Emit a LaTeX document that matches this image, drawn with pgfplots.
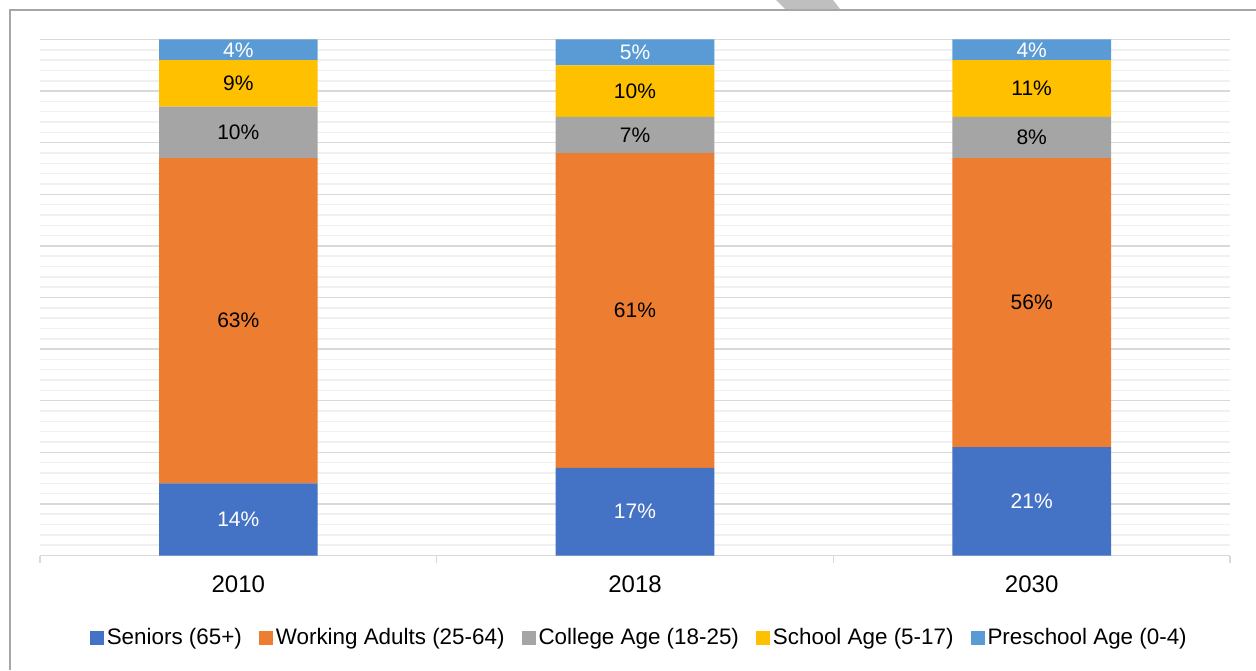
\documentclass[border=0pt]{standalone}
\usepackage{pgfplots}
\pgfplotsset{compat=1.18}
\usepackage{fontspec}
\setmainfont{Liberation Sans}
\definecolor{cSen}{HTML}{4472C4}
\definecolor{cWork}{HTML}{ED7D31}
\definecolor{cCol}{HTML}{A5A5A5}
\definecolor{cSch}{HTML}{FFC000}
\definecolor{cPre}{HTML}{5B9BD5}
\definecolor{gridmaj}{HTML}{D9D9D9}
\definecolor{gridmin}{HTML}{F0F0F0}
\definecolor{axisc}{HTML}{D9D9D9}
\definecolor{framec}{HTML}{A6A6A6}
\definecolor{chev}{HTML}{BFBFBF}
\begin{document}
\begin{tikzpicture}
\path[use as bounding box] (0,0) rectangle (628pt,335pt);
\fill[chev] (388pt,335pt) -- (392.5pt,330.5pt) -- (420pt,330.5pt) -- (416.5pt,335pt) -- cycle;
\draw[framec, line width=1pt] (5pt,0) -- (5pt,330pt) -- (628pt,330pt);
\begin{axis}[
  at={(20pt,57.25pt)}, anchor=south west,
  scale only axis, width=595pt, height=258pt,
  ybar stacked, bar width=0.4,
  xmin=-0.5, xmax=2.5, ymin=0, ymax=100,
  xtick={0,1,2}, xticklabels={2010,2018,2030},
  minor xtick={-0.5,0.5,1.5,2.5},
  ytick={0,10,...,100}, minor y tick num=4, yticklabels={},
  ymajorgrids, yminorgrids,
  major grid style={draw=gridmaj, line width=0.75pt},
  minor grid style={draw=gridmin, line width=0.75pt},
  axis x line*=bottom, axis y line*=left,
  y axis line style={draw=none},
  x axis line style={draw=axisc, line width=0.75pt},
  major tick length=0pt, minor tick length=3.5pt, tick align=outside,
  minor x tick style={draw=axisc, line width=0.75pt},
  minor y tick style={draw=none},
  xticklabel style={font=\fontsize{12}{14}\selectfont, yshift=-6.5pt},
  point meta=explicit symbolic,
  nodes near coords={\pgfplotspointmeta\%},
  every node near coord/.append style={anchor=center, font=\fontsize{10.5}{12}\selectfont, text=black},
  legend style={at={(0.504,-0.159)}, anchor=center, draw=none, fill=none,
    legend columns=5, font=\fontsize{11.2}{13}\selectfont,
    /tikz/every even column/.append style={column sep=7pt},
    nodes={inner sep=1.5pt}},
  legend image code/.code={\fill[#1] (0pt,-3.5pt) rectangle (7pt,3.5pt);},
]
\addplot[fill=cSen, draw=none, every node near coord/.append style={text=white}] coordinates {(0,14) [14] (1,17) [17] (2,21) [21]};
\addplot[fill=cWork, draw=none] coordinates {(0,63) [63] (1,61) [61] (2,56) [56]};
\addplot[fill=cCol, draw=none] coordinates {(0,10) [10] (1,7) [7] (2,8) [8]};
\addplot[fill=cSch, draw=none] coordinates {(0,9) [9] (1,10) [10] (2,11) [11]};
\addplot[fill=cPre, draw=none, every node near coord/.append style={text=white}] coordinates {(0,4) [4] (1,5) [5] (2,4) [4]};
\legend{Seniors (65+), Working Adults (25-64), College Age (18-25), School Age (5-17), Preschool Age (0-4)}
\end{axis}
\end{tikzpicture}
\end{document}
